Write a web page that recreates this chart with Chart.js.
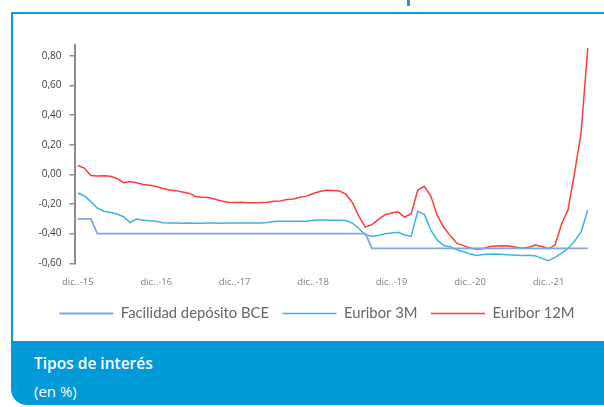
<!DOCTYPE html>
<html lang="es">
<head>
<meta charset="utf-8">
<script src="https://cdn.jsdelivr.net/npm/chart.js@4.4.1/dist/chart.umd.min.js"></script>
<style>
  html, body { margin: 0; padding: 0; background: #fff; }
  body { width: 604px; height: 407px; position: relative; overflow: hidden; font-family: 'Open Sans', sans-serif; }
  .tab   { position: absolute; left: 407px; top: 0; width: 3px; height: 6px; background: #139bd9; }
  .frame { position: absolute; left: 11px; top: 12px; width: 640px; height: 360px;
           border-top: 2px solid #139bd9; border-left: 2px solid #139bd9; }
  .banner { position: absolute; left: 11px; top: 341px; width: 640px; height: 64px;
            background: #009ad8; border-bottom-left-radius: 16px; }
  .banner .t1 { position: absolute; left: 23px; top: 12px; color: #fff; font-size: 15.5px; font-weight: 600; line-height: 20px; }
  .banner .t2 { position: absolute; left: 23px; top: 40px; color: #fff; font-size: 15px; line-height: 20px; }
  #wrap { position: absolute; left: 0; top: 0; width: 604px; height: 340px; }
</style>
</head>
<body>
<div class="tab"></div>
<div class="frame"></div>
<div class="banner">
  <div class="t1">Tipos de interés</div>
  <div class="t2">(en %)</div>
</div>
<div id="wrap"><canvas id="chart"></canvas></div>

<script>
// Etiquetas del eje X (una por diciembre)
const tickLabels = ['dic..-15', 'dic..-16', 'dic..-17', 'dic..-18', 'dic..-19', 'dic..-20', 'dic..-21'];

// Marcas del eje Y
const yTicks = [-0.6, -0.4, -0.2, 0, 0.2, 0.4, 0.6, 0.8];

// Meses: dic-15 ... jun-22 (79 observaciones)
const meses = ['ene', 'feb', 'mar', 'abr', 'may', 'jun', 'jul', 'ago', 'sep', 'oct', 'nov', 'dic'];
const categories = ['dic-15'];
for (let y = 16; y <= 22; y++) {
  const last = y === 22 ? 6 : 12;
  for (let m = 0; m < last; m++) categories.push(meses[m] + '-' + y);
}

// Facilidad de depósito BCE
const facilidadBCE = [
  -0.30,
  -0.30, -0.30, -0.40, -0.40, -0.40, -0.40, -0.40, -0.40, -0.40, -0.40, -0.40, -0.40,
  -0.40, -0.40, -0.40, -0.40, -0.40, -0.40, -0.40, -0.40, -0.40, -0.40, -0.40, -0.40,
  -0.40, -0.40, -0.40, -0.40, -0.40, -0.40, -0.40, -0.40, -0.40, -0.40, -0.40, -0.40,
  -0.40, -0.40, -0.40, -0.40, -0.40, -0.40, -0.40, -0.40, -0.50, -0.50, -0.50, -0.50,
  -0.50, -0.50, -0.50, -0.50, -0.50, -0.50, -0.50, -0.50, -0.50, -0.50, -0.50, -0.50,
  -0.50, -0.50, -0.50, -0.50, -0.50, -0.50, -0.50, -0.50, -0.50, -0.50, -0.50, -0.50,
  -0.50, -0.50, -0.50, -0.50, -0.50, -0.50
];

// Euribor 3 meses
const euribor3M = [
  -0.126,
  -0.146, -0.184, -0.228, -0.249, -0.257, -0.268, -0.286, -0.325, -0.302, -0.309, -0.313, -0.316,
  -0.326, -0.329, -0.329, -0.330, -0.329, -0.330, -0.330, -0.329, -0.329, -0.330, -0.329, -0.328,
  -0.328, -0.328, -0.328, -0.328, -0.325, -0.318, -0.317, -0.317, -0.317, -0.316, -0.316, -0.310,
  -0.308, -0.308, -0.309, -0.310, -0.312, -0.329, -0.365, -0.408, -0.418, -0.413, -0.401, -0.395,
  -0.391, -0.409, -0.417, -0.250, -0.270, -0.376, -0.444, -0.480, -0.490, -0.509, -0.522, -0.538,
  -0.547, -0.541, -0.539, -0.538, -0.540, -0.543, -0.545, -0.548, -0.545, -0.550, -0.567, -0.583,
  -0.560, -0.531, -0.500, -0.450, -0.386, -0.241
];

// Euribor 12 meses
const euribor12M = [
  0.059,
  0.042, -0.008, -0.012, -0.010, -0.013, -0.028, -0.056, -0.048, -0.057, -0.069, -0.074, -0.082,
  -0.095, -0.106, -0.110, -0.119, -0.127, -0.149, -0.154, -0.156, -0.168, -0.180, -0.189, -0.190,
  -0.189, -0.191, -0.191, -0.190, -0.188, -0.181, -0.180, -0.169, -0.166, -0.154, -0.147, -0.129,
  -0.116, -0.108, -0.109, -0.112, -0.134, -0.190, -0.283, -0.356, -0.339, -0.304, -0.272, -0.261,
  -0.253, -0.288, -0.266, -0.108, -0.081, -0.147, -0.279, -0.359, -0.415, -0.466, -0.481, -0.497,
  -0.505, -0.501, -0.487, -0.484, -0.481, -0.484, -0.491, -0.498, -0.492, -0.477, -0.487, -0.502,
  -0.477, -0.335, -0.237, 0.013, 0.287, 0.852
];

const AXIS_GREY = '#8c8c8c';

function serie(label, data, color, width) {
  return {
    label, data,
    borderColor: color,
    backgroundColor: color,
    borderWidth: width,
    pointRadius: 0,
    pointHoverRadius: 0,
    tension: 0,
    fill: false
  };
}

new Chart(document.getElementById('chart'), {
  type: 'line',
  data: {
    labels: categories,
    datasets: [
      serie('Facilidad depósito BCE', facilidadBCE, '#7ea7de', 1.8),
      serie('Euribor 3M', euribor3M, '#3cb4e6', 1.5),
      serie('Euribor 12M', euribor12M, '#ff3b3b', 1.5)
    ]
  },
  options: {
    responsive: true,
    maintainAspectRatio: false,
    animation: false,
    layout: { padding: { left: 34, right: 4, top: 45.3, bottom: 9.1 } },
    plugins: {
      tooltip: { enabled: false },
      legend: {
        position: 'bottom',
        labels: {
          usePointStyle: true,
          pointStyle: 'line',
          pointStyleWidth: 54,
          padding: 13.5,
          color: '#666',
          font: { family: 'Lato', size: 14.8 }
        }
      }
    },
    scales: {
      x: {
        offset: true,
        afterFit: s => { s.height = 29.3; },
        grid: { display: false, drawTicks: false },
        border: { display: false },
        ticks: {
          autoSkip: false,
          maxRotation: 0,
          padding: 13,
          color: '#808080',
          font: { family: 'Open Sans', size: 9.5 },
          callback: (v, i) => (i % 12 === 0 ? tickLabels[i / 12] : '')
        }
      },
      y: {
        min: -0.6,
        max: 0.87,
        afterFit: s => { s.width = 40.5; },
        afterBuildTicks: s => { s.ticks = yTicks.map(v => ({ value: v })); },
        grid: { drawOnChartArea: false, drawTicks: true, tickLength: 5, color: AXIS_GREY, lineWidth: 1.5 },
        border: { display: true, color: AXIS_GREY, width: 2 },
        ticks: {
          padding: 8,
          color: '#404040',
          font: { family: 'Open Sans', size: 10 },
          callback: v => v.toFixed(2).replace('.', ',')
        }
      },
      // eje vacío a la derecha: solo reserva margen para que la leyenda quede centrada como en el original
      yPad: {
        position: 'right',
        afterFit: s => { s.width = 9; },
        grid: { display: false },
        border: { display: false },
        ticks: { display: false }
      }
    }
  }
});
</script>
</body>
</html>
